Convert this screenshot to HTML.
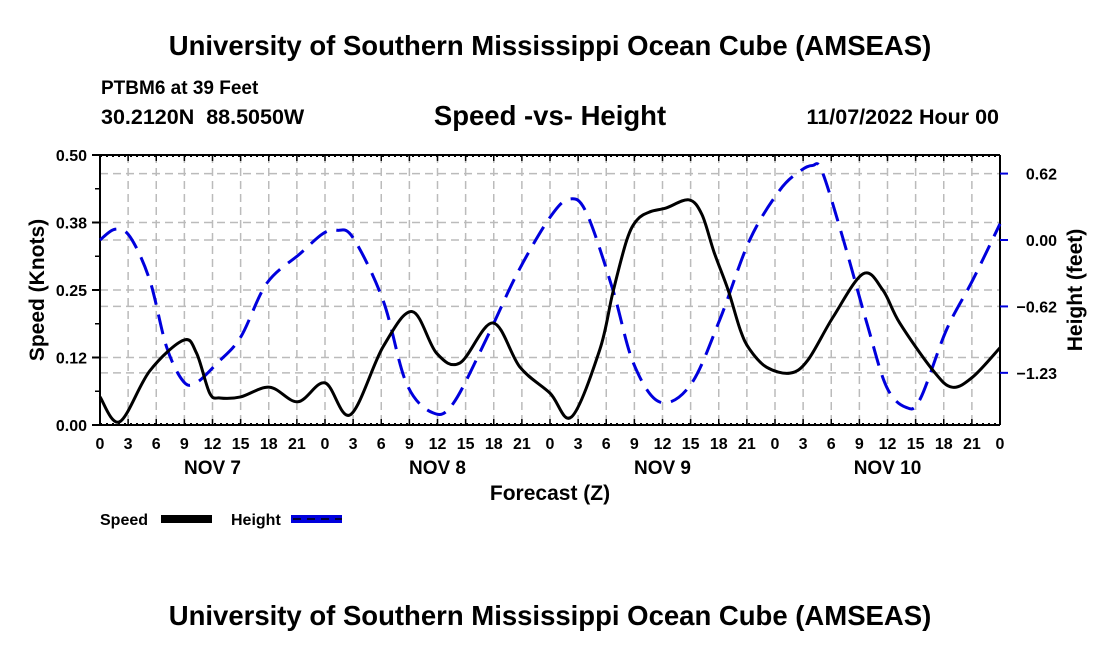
<!DOCTYPE html>
<html><head><meta charset="utf-8">
<style>
body{margin:0;background:#fff;}
svg text{font-family:"Liberation Sans",sans-serif;font-weight:bold;fill:#000;}
</style></head>
<body>
<svg id="chart" width="1100" height="650" xmlns="http://www.w3.org/2000/svg">
<text x="550" y="55" font-size="27.5" text-anchor="middle">University of Southern Mississippi Ocean Cube (AMSEAS)</text>
<text x="101" y="94" font-size="19">PTBM6 at 39 Feet</text>
<text x="101" y="124" font-size="21.5">30.2120N&#160;&#160;88.5050W</text>
<text x="550" y="125" font-size="27.5" text-anchor="middle">Speed -vs- Height</text>
<text x="999" y="124" font-size="21.5" text-anchor="end">11/07/2022 Hour 00</text>
<g id="grid"></g>
<g id="axes"></g>
<g id="series"></g>
<text x="550" y="500" font-size="21" text-anchor="middle">Forecast (Z)</text>
<text transform="translate(44,290) rotate(-90)" font-size="21" text-anchor="middle">Speed (Knots)</text>
<text transform="translate(1082,290) rotate(-90)" font-size="21" text-anchor="middle">Height (feet)</text>
<g>
<text x="100" y="525" font-size="16">Speed</text>
<rect x="161" y="515" width="51" height="8" fill="#000"/>
</g>
<g>
<text x="231" y="525" font-size="16">Height</text>
<rect x="291" y="515" width="51" height="8" fill="#0000dd"/>
<line x1="293" y1="519" x2="342" y2="519" stroke="#000" stroke-width="1.5" stroke-dasharray="8,6"/>
</g>
<text x="550" y="625" font-size="27.5" text-anchor="middle">University of Southern Mississippi Ocean Cube (AMSEAS)</text>
</svg>
<script>
const speedHours=[0,2.1,5.3,8.9,10.3,11.7,12.8,15,18.1,21.1,24,26.7,30.2,33.3,35.9,38.4,41.9,44.8,48,50.3,53.3,54.7,56.2,57.3,58.7,60.4,62.8,64.2,65.5,67,68.3,69.3,71.1,73.6,75.5,78.2,81.4,83.5,85.3,88.9,90.9,93.1,96];
const speedValues=[0.052,0.006,0.10,0.157,0.133,0.059,0.05,0.052,0.07,0.043,0.078,0.019,0.145,0.21,0.133,0.115,0.189,0.107,0.059,0.015,0.139,0.245,0.343,0.38,0.395,0.402,0.417,0.39,0.32,0.25,0.176,0.14,0.107,0.096,0.12,0.2,0.28,0.25,0.189,0.10,0.07,0.089,0.143];
const heightHours=[0,1.6,3.2,5.3,7.1,8.9,10.3,12.5,15,17.8,21.3,23.8,25.3,27,30.2,32.7,35.5,37.7,41.3,44.5,48,50.1,51.9,54.7,56.9,59.7,63,66.1,69.3,72.5,74.7,76,77,79.3,81.8,83.9,86,87.5,90.3,93.1,96];
const heightValues=[0,0.1,0.03,-0.37,-0.99,-1.31,-1.32,-1.14,-0.9,-0.4,-0.13,0.06,0.09,0.02,-0.56,-1.33,-1.6,-1.51,-0.9,-0.31,0.21,0.38,0.25,-0.46,-1.14,-1.5,-1.34,-0.74,0,0.46,0.64,0.69,0.64,0,-0.77,-1.36,-1.55,-1.47,-0.83,-0.37,0.15];
const xTickLabels=["0","3","6","9","12","15","18","21"];
const dayLabels=["NOV 7","NOV 8","NOV 9","NOV 10"];
const speedTicks=[0,0.125,0.25,0.375,0.5];
const speedTickLabels=["0.00","0.12","0.25","0.38","0.50"];
const heightTicks=[0.615,0,-0.615,-1.23];
const heightTickLabels=["0.62","0.00","\u22120.62","\u22121.23"];

const X0=100,X1=1000,Y0=155,Y1=425;
const xs=h=>X0+h*(X1-X0)/96;
const ys=v=>Y1-v*(Y1-Y0)/0.5;
const yh=v=>240-v*108;
const NS="http://www.w3.org/2000/svg";
function mk(parent,tag,attrs){const e=document.createElementNS(NS,tag);for(const k in attrs)e.setAttribute(k,attrs[k]);parent.appendChild(e);return e;}
const grid=document.getElementById('grid'),axes=document.getElementById('axes'),series=document.getElementById('series');
for(let h=3;h<96;h+=3){const l=mk(grid,'line',{x1:xs(h),x2:xs(h),y1:Y0,y2:Y1,stroke:'#bbb','stroke-width':1.5,'stroke-dasharray':'8,5'});

}
speedTicks.forEach(v=>{if(v>0&&v<0.5){const l=mk(grid,'line',{x1:X0,x2:X1,y1:ys(v),y2:ys(v),stroke:'#bbb','stroke-width':1.5,'stroke-dasharray':'8,5'});

}});
heightTicks.forEach(v=>{const l=mk(grid,'line',{x1:X0,x2:X1,y1:yh(v),y2:yh(v),stroke:'#bbb','stroke-width':1.5,'stroke-dasharray':'8,5'});

});
mk(axes,'line',{x1:X0,x2:X0,y1:Y0,y2:Y1,stroke:'#000','stroke-width':2});
mk(axes,'line',{x1:X1,x2:X1,y1:Y0,y2:Y1,stroke:'#000','stroke-width':2});
mk(axes,'line',{x1:X0,x2:X1,y1:Y1,y2:Y1,stroke:'#000','stroke-width':2});
mk(axes,'line',{x1:X0,x2:X1,y1:Y0,y2:Y0,stroke:'#000','stroke-width':2});
mk(axes,'line',{x1:X0,x2:X1,y1:Y0+1.5,y2:Y0+1.5,stroke:'#000','stroke-width':1,'stroke-dasharray':'2,4'});
mk(axes,'line',{x1:X0,x2:X1,y1:Y1-1.5,y2:Y1-1.5,stroke:'#000','stroke-width':1,'stroke-dasharray':'2,4'});
for(let h=0;h<=96;h+=3){const x=xs(h);
mk(axes,'line',{x1:x,x2:x,y1:Y1,y2:Y1-6,stroke:'#000','stroke-width':1.5});
mk(axes,'line',{x1:x,x2:x,y1:Y0,y2:Y0+6,stroke:'#000','stroke-width':1.5});
const t=mk(axes,'text',{x:x,y:Y1+24,'font-size':16,'text-anchor':'middle'});t.textContent=xTickLabels[(h/3)%8];

}
dayLabels.forEach((d,i)=>{const t=mk(axes,'text',{x:xs(12+24*i),y:Y1+49,'font-size':19,'text-anchor':'middle'});t.textContent=d;

});
speedTicks.forEach((v,i)=>{mk(axes,'line',{x1:X0-8,x2:X0,y1:ys(v),y2:ys(v),stroke:'#000','stroke-width':2});
const t=mk(axes,'text',{x:X0-13,y:ys(v)+6,'font-size':16,'text-anchor':'end'});t.textContent=speedTickLabels[i];

});
for(let v=0.0625;v<0.5;v+=0.125)mk(axes,'line',{x1:X0-5,x2:X0,y1:ys(v),y2:ys(v),stroke:'#000','stroke-width':1.5});
heightTicks.forEach((v,i)=>{mk(axes,'line',{x1:X1,x2:X1+8,y1:yh(v),y2:yh(v),stroke:'#0000dd','stroke-width':2});
const t=mk(axes,'text',{x:1057,y:yh(v)+6,'font-size':16,'text-anchor':'end'});t.textContent=heightTickLabels[i];

});
function smooth(pts){let d='M'+pts[0][0]+','+pts[0][1];for(let i=0;i<pts.length-1;i++){const p0=pts[Math.max(0,i-1)],p1=pts[i],p2=pts[i+1],p3=pts[Math.min(pts.length-1,i+2)];
const c1=[p1[0]+(p2[0]-p0[0])/6,p1[1]+(p2[1]-p0[1])/6],c2=[p2[0]-(p3[0]-p1[0])/6,p2[1]-(p3[1]-p1[1])/6];
d+=' C'+c1[0]+','+c1[1]+' '+c2[0]+','+c2[1]+' '+p2[0]+','+p2[1];}return d;}
const hp=mk(series,'path',{d:smooth(heightHours.map((h,i)=>[xs(h),yh(heightValues[i])])),fill:'none',stroke:'#0000dd','stroke-width':3,'stroke-dasharray':'20,10'});


const sp=mk(series,'path',{d:smooth(speedHours.map((h,i)=>[xs(h),ys(speedValues[i])])),fill:'none',stroke:'#000','stroke-width':3});


</script>
</body></html>
